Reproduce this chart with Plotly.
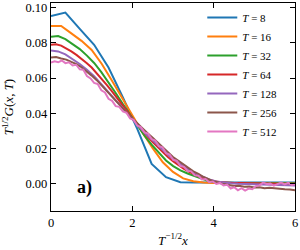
import numpy as np
import plotly.graph_objects as go

T_values = [8, 16, 32, 64, 128, 256, 512]
labels = ["<i>T</i> = 8", "<i>T</i> = 16", "<i>T</i> = 32", "<i>T</i> = 64",
          "<i>T</i> = 128", "<i>T</i> = 256", "<i>T</i> = 512"]
colors = ["#1f77b4", "#ff7f0e", "#2ca02c", "#d62728", "#9467bd", "#8c564b", "#e377c2"]

# step in x (lattice index) between plotted samples, for each T
sample_stride = [1, 1, 1, 1, 2, 2, 2]

G_T8 = [0.0953, 0.0973, 0.0880, 0.0790, 0.0660, 0.0490, 0.0310, 0.0110, 0.0035,
        0.0006, 0.0004, 0.0004, 0.0004, 0.0004, 0.0004, 0.0004, 0.0004, 0.0004]

G_T16 = [0.0897, 0.0897, 0.0855, 0.0812, 0.0760, 0.0680, 0.0585, 0.0485, 0.0385,
         0.0290, 0.0200, 0.0120, 0.0065, 0.0028, 0.0012, 0.0004, 0.0001,
         0.0, 0.0, 0.0, 0.0, 0.0, 0.0, 0.0, 0.0]

G_T32 = [0.0836, 0.0840, 0.0822, 0.0795, 0.0765, 0.0728, 0.0686, 0.0634, 0.0576,
         0.0515, 0.0452, 0.0390, 0.0330, 0.0272, 0.0220, 0.0172, 0.0130, 0.0098,
         0.0074, 0.0056, 0.0041, 0.0026, 0.0012, 0.0004, 0.0002, 0.0001, 0.0,
         0.0, 0.0, 0.0, 0.0, 0.0, 0.0, 0.0, 0.0]

G_T64 = [0.0790, 0.0793, 0.0785, 0.0770, 0.0752, 0.0732, 0.0710, 0.0686, 0.0660,
         0.0628, 0.0594, 0.0560, 0.0524, 0.0488, 0.0450, 0.0410, 0.0372, 0.0335,
         0.0300, 0.0266, 0.0235, 0.0205, 0.0176, 0.0150, 0.0126, 0.0104, 0.0085,
         0.0068, 0.0053, 0.0040, 0.0029, 0.0020, 0.0013, 0.0008, 0.0005, 0.0003,
         0.0002, 0.0001, 0.0, 0.0, -0.0001, -0.0001, -0.0002, -0.0002, -0.0002,
         -0.0003, -0.0003, -0.0003, -0.0003]

G_T128 = [0.0757, 0.0752, 0.0735, 0.0708, 0.0680, 0.0648, 0.0610, 0.0565, 0.0518,
          0.0470, 0.0425, 0.0380, 0.0335, 0.0290, 0.0250, 0.0210, 0.0172, 0.0138,
          0.0108, 0.0082, 0.0058, 0.0038, 0.0022, 0.0010, 0.0003, 0.0, -0.0003,
          -0.0004, -0.0005, -0.0006, -0.0008, -0.0008, -0.0010, -0.0010, -0.0012]

G_T256 = [0.0717, 0.0720, 0.0712, 0.0705, 0.0692, 0.0680, 0.0662, 0.0640, 0.0614,
          0.0588, 0.0556, 0.0524, 0.0490, 0.0460, 0.0428, 0.0400, 0.0370, 0.0340,
          0.0312, 0.0286, 0.0260, 0.0232, 0.0206, 0.0180, 0.0150, 0.0130, 0.0108,
          0.0090, 0.0068, 0.0054, 0.0036, 0.0024, 0.0010, 0.0004, -0.0006, -0.0010,
          -0.0016, -0.0014, -0.0020, -0.0018, -0.0024, -0.0022, -0.0028, -0.0026,
          -0.0030, -0.0032, -0.0034, -0.0036, -0.0040]

G_T512 = [0.0688, 0.0695, 0.0690, 0.0700, 0.0685, 0.0690, 0.0672, 0.0676, 0.0650,
          0.0648, 0.0612, 0.0598, 0.0572, 0.0566, 0.0530, 0.0518, 0.0482, 0.0470,
          0.0440, 0.0436, 0.0410, 0.0402, 0.0370, 0.0362, 0.0328, 0.0320, 0.0290,
          0.0284, 0.0252, 0.0244, 0.0212, 0.0205, 0.0172, 0.0164, 0.0134, 0.0128,
          0.0098, 0.0094, 0.0070, 0.0068, 0.0045, 0.0043, 0.0022, 0.0024, 0.0006,
          0.0010, -0.0004, 0.0002, -0.0012, -0.0008, -0.0030, -0.0022, -0.0040,
          -0.0028, -0.0042, -0.0030, -0.0034, -0.0016, -0.0012, 0.0004, -0.0004,
          -0.0002, -0.0014, -0.0004, 0.0004, -0.0006, 0.0002, -0.0010, -0.0004]

series = [G_T8, G_T16, G_T32, G_T64, G_T128, G_T256, G_T512]

x_ticks = [0, 2, 4, 6]
y_ticks = [0.00, 0.02, 0.04, 0.06, 0.08, 0.10]

FONT = "Liberation Serif"

fig = go.Figure()
for T, lab, col, stride, G in zip(T_values, labels, colors, sample_stride, series):
    xs = np.arange(len(G)) * stride / np.sqrt(T)
    fig.add_trace(go.Scatter(x=xs, y=G, mode="lines", name=lab,
                             line=dict(color=col, width=2)))

axis_common = dict(showline=True, linecolor="black", linewidth=1.3, mirror="ticks",
                   ticks="inside", ticklen=5, tickwidth=1, tickcolor="black",
                   showgrid=False, zeroline=False, ticklabeloverflow="allow",
                   tickfont=dict(family=FONT, size=12.5, color="black"))

fig.update_xaxes(range=[0, 6], tickvals=x_ticks, ticktext=[str(v) for v in x_ticks],
                 title=dict(text="<i>T</i><sup>−1/2</sup><i>x</i>", standoff=6,
                            font=dict(family=FONT, size=13, color="black")),
                 **axis_common)
fig.update_yaxes(range=[-0.0158, 0.1028], tickvals=y_ticks,
                 ticktext=[f"{v:.2f}" for v in y_ticks],
                 title=dict(text="<i>T</i><sup>1/2</sup><i>G</i>(<i>x</i>, <i>T</i>)", standoff=10,
                            font=dict(family=FONT, size=13, color="black")),
                 **axis_common)

fig.add_annotation(x=0.82, y=-0.0023, xref="x", yref="y", text="<b>a)</b>",
                   showarrow=False, font=dict(family=FONT, size=18, color="black"))

fig.update_layout(
    width=300, height=250,
    margin=dict(l=51, r=5, t=1, b=39),
    paper_bgcolor="white", plot_bgcolor="white",
    font=dict(family=FONT, size=12, color="black"),
    legend=dict(x=0.62, y=1.0, xanchor="left", yanchor="top",
                bgcolor="rgba(0,0,0,0)", borderwidth=0,
                font=dict(family=FONT, size=11, color="black"),
                tracegroupgap=0, itemwidth=30),
    showlegend=True,
)

fig.write_html("out.html", config={"displayModeBar": False},
               post_script="document.body.style.margin='0';")
